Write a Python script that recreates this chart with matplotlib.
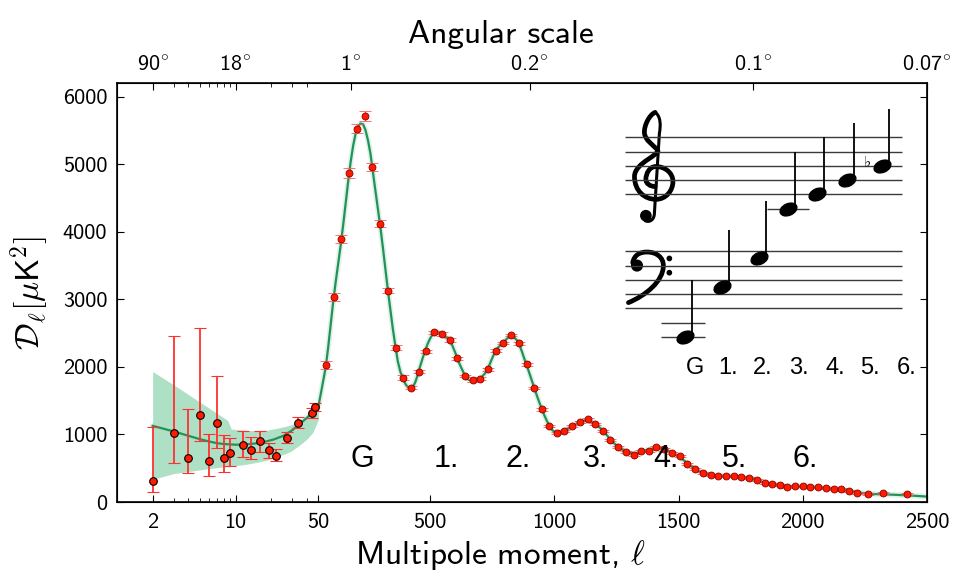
import numpy as np
import matplotlib
matplotlib.use('Agg')
import matplotlib.pyplot as plt
from matplotlib.path import Path
from matplotlib.patches import PathPatch, Ellipse
from matplotlib.transforms import Affine2D

plt.rcParams['font.family'] = ['cmss10', 'DejaVu Sans']
plt.rcParams['mathtext.fontset'] = 'cm'
plt.rcParams['axes.unicode_minus'] = False

# ---- data ----
# low-l points (asymmetric errors: lower / upper bound of the bar)
ell_low = [2, 3, 4, 5, 6, 7, 8, 9, 11.5, 13.5, 16, 19, 22, 27, 34, 44, 47]
dl_low = [310, 1015, 654, 1290, 610, 1171, 645, 719, 840, 766, 901, 764, 684, 952, 1169, 1322, 1408]
bar_lo = [143, 580, 424, 906, 388, 793, 438, 532, 669, 640, 743, 655, 610, 867, 1088, 1250, 1340]
bar_hi = [1103, 2452, 1369, 2575, 1000, 1861, 985, 941, 1053, 965, 1053, 867, 778, 1038, 1251, 1390, 1470]

# binned high-l points
ell_high = [81, 112, 143, 174, 205, 236, 267, 298, 330, 361, 392, 423, 454, 485,
            516, 547, 578, 609, 640, 671, 702, 733, 764, 795, 826, 857, 888, 919,
            950, 980, 1010, 1040, 1072, 1103, 1134, 1165, 1196, 1226, 1257, 1288,
            1319, 1350, 1380, 1411, 1443, 1474, 1505, 1534, 1568, 1599, 1630, 1660,
            1691, 1722, 1753, 1783, 1814, 1846, 1877, 1907, 1938, 1970, 2000, 2031,
            2062, 2093, 2124, 2155, 2185, 2219, 2261, 2322, 2420]
dl_high = [2024, 3035, 3895, 4869, 5524, 5706, 4953, 4116, 3127, 2285, 1842, 1694, 1930, 2230,
           2511, 2486, 2397, 2127, 1866, 1802, 1827, 1964, 2240, 2353, 2471, 2348, 2038, 1688,
           1369, 1123, 1024, 1049, 1127, 1182, 1221, 1152, 1053, 916, 808, 743,
           699, 758, 758, 817, 778, 728, 675, 561, 483, 424, 394, 388,
           388, 384, 374, 354, 329, 285, 261, 251, 226, 236, 241, 222,
           222, 211, 192, 187, 167, 137, 118, 137, 118]
err_high = [60, 60, 60, 70, 70, 75, 60, 50, 40, 35, 30, 25, 25, 25,
            25, 25, 25, 25, 20, 20, 20, 20, 20, 20, 20, 20, 20, 20,
            20, 18, 18, 18, 18, 18, 18, 18, 18, 16, 16, 16,
            16, 16, 16, 16, 16, 16, 15, 15, 15, 15, 15, 15,
            15, 15, 15, 15, 15, 15, 15, 15, 15, 15, 15, 15,
            15, 15, 15, 15, 15, 15, 15, 15, 15]

# best-fit model curve
ell_th = [2, 3, 4, 5, 6, 7, 8, 10, 12, 15, 18, 21, 25, 30, 35, 40, 45, 50,
          60, 70, 80, 90, 100, 110, 120, 130, 140, 150, 160, 170, 180, 190, 200,
          210, 220, 230, 240, 250, 260, 270, 280, 290, 300, 310, 320, 330, 340,
          350, 360, 370, 380, 390, 400, 410, 420, 430, 440, 450, 460, 470, 480,
          490, 500, 510, 520, 530, 540, 550, 560, 570, 580, 590, 600, 610, 620,
          630, 640, 650, 660, 670, 680, 690, 700, 710, 720, 730, 740, 750, 760,
          770, 780, 790, 800, 810, 820, 830, 840, 850, 860, 870, 880, 890, 900,
          910, 920, 930, 940, 950, 960, 970, 980, 990, 1000, 1020, 1040, 1060,
          1080, 1100, 1120, 1140, 1160, 1180, 1200, 1220, 1240, 1260, 1280, 1300,
          1320, 1340, 1360, 1380, 1400, 1420, 1440, 1460, 1480, 1500, 1520, 1540,
          1560, 1580, 1600, 1620, 1650, 1700, 1750, 1800, 1850, 1900, 1950, 2000,
          2050, 2100, 2150, 2200, 2250, 2300, 2350, 2400, 2450, 2500]
dl_th = [1127, 1045, 980, 930, 895, 870, 858, 848, 850, 868, 895, 925, 975, 1060, 1160, 1245, 1330, 1408,
         1600, 1800, 2000, 2300, 2630, 2970, 3260, 3530, 3800, 4100, 4420, 4740, 5030, 5270, 5450,
         5560, 5600, 5590, 5500, 5350, 5150, 4870, 4600, 4330, 4060, 3760, 3440, 3130, 2840,
         2560, 2310, 2080, 1930, 1830, 1750, 1700, 1685, 1700, 1770, 1880, 2010, 2130, 2240,
         2340, 2420, 2480, 2510, 2520, 2500, 2475, 2450, 2420, 2385, 2310, 2220, 2120, 2030,
         1950, 1870, 1820, 1800, 1800, 1805, 1815, 1830, 1860, 1900, 1950, 2040, 2130, 2210,
         2270, 2310, 2345, 2380, 2420, 2455, 2465, 2430, 2390, 2320, 2220, 2110, 2010, 1900,
         1790, 1680, 1570, 1470, 1370, 1280, 1200, 1125, 1070, 1040, 1030, 1050, 1095,
         1145, 1180, 1205, 1205, 1170, 1110, 1040, 950, 870, 805, 760, 730,
         720, 730, 755, 780, 795, 800, 785, 755, 715, 670, 620, 560,
         505, 460, 428, 405, 392, 388, 373, 340, 285, 252, 233, 235,
         222, 205, 185, 155, 128, 115, 110, 102, 92, 80]

# cosmic-variance band at low l
ell_band = [2, 3, 4, 5, 6, 7, 8, 8.6, 9.2, 12, 15, 18, 22, 25, 29, 35, 40, 45, 50]
band_lo = [335, 420, 450, 475, 495, 508, 520, 525, 530, 555, 585, 615, 660, 700, 745, 845, 930, 1030, 1220]
band_hi = [1930, 1735, 1590, 1478, 1387, 1310, 1243, 1205, 1080, 1060, 1055, 1060, 1088, 1110, 1137, 1200, 1270, 1360, 1460]

xticks_bottom = [2, 10, 50, 500, 1000, 1500, 2000, 2500]
xminor = [3, 4, 5, 6, 7, 8, 9, 20, 30, 40]
top_ticks = [2, 10, 180, 900, 1800, 2500]
top_labels = ['90', '18', '1', '0.2', '0.1', '0.07']
yticks = [0, 1000, 2000, 3000, 4000, 5000, 6000]

peak_labels = ['G', '1.', '2.', '3.', '4.', '5.', '6.']
peak_ell = [227, 564, 854, 1167, 1449, 1726, 2011]
peak_y = 640

# music inset: notes as staff steps (0 = bottom line of bass staff)
note_step = [-4, 3, 7, 14, 16, 18, 20]
note_x = [65, 102, 139, 168, 197, 227, 262]
note_label_x = [75, 108, 143, 179, 215, 250, 287]
bass_lines = [0, 2, 4, 6, 8]
treble_lines = [16, 18, 20, 22, 24]


# ---- hybrid axis: log below l=50, linear above ----
L_SPLIT = 50.0
DEC = 477.0


def fwd(l):
    l = np.asarray(l, dtype=float)
    lg = L_SPLIT + DEC * np.log10(np.maximum(l, 1e-6) / L_SPLIT)
    return np.where(l < L_SPLIT, lg, l)


def inv(x):
    x = np.asarray(x, dtype=float)
    ex = L_SPLIT * 10 ** ((np.minimum(x, L_SPLIT) - L_SPLIT) / DEC)
    return np.where(x < L_SPLIT, ex, x)


fig = plt.figure(figsize=(9.55, 5.74), dpi=100)
ax = fig.add_axes([117 / 955, 1 - 502 / 574, 810 / 955, 419 / 574])
ax.set_xscale('function', functions=(fwd, inv))
ax.set_xlim(1.0, 2500)
ax.set_ylim(0, 6200)

green_band = '#ade0c4'
green_line = '#23915a'

ax.fill_between(ell_band, band_lo, band_hi, color=green_band, lw=0, zorder=1)
ax.plot(ell_th, dl_th, color=green_band, lw=4, alpha=0.4, solid_capstyle='round', zorder=1.5)
ax.plot(ell_th, dl_th, color=green_line, lw=1.6, zorder=2)

lo_err = np.array(dl_low) - np.array(bar_lo)
hi_err = np.array(bar_hi) - np.array(dl_low)
ax.errorbar(ell_low, dl_low, yerr=[lo_err, hi_err], fmt='o', ms=5.5,
            mfc='#ff1a00', mec='black', mew=0.8, ecolor='#ff3030',
            elinewidth=1.3, capsize=4, capthick=1.0, zorder=3)
ax.errorbar(ell_high, dl_high, yerr=err_high, fmt='o', ms=5.0,
            mfc='#ff1a00', mec='#8a0000', mew=0.6, ecolor='#ff5a5a',
            elinewidth=1.0, capsize=4, capthick=0.8, zorder=3)

for lab, l in zip(peak_labels, peak_ell):
    ax.text(l, peak_y, lab, ha='center', va='center', fontsize=22,
            family='Liberation Sans', color='black', zorder=4)

ax.set_xticks(xticks_bottom)
ax.set_xticklabels([str(t) for t in xticks_bottom])
ax.set_xticks(xminor, minor=True)
ax.set_xticklabels([], minor=True)
ax.set_yticks(yticks)
ax.set_yticklabels([str(t) for t in yticks])
ax.tick_params(axis='both', which='major', direction='in', length=5, width=0.8,
               labelsize=16, top=False, right=True)
ax.tick_params(axis='x', which='major', pad=8)
ax.tick_params(axis='y', which='major', pad=7)
ax.tick_params(axis='both', which='minor', direction='in', length=3, width=0.6, top=False)
for sp in ax.spines.values():
    sp.set_linewidth(1.2)

ax.set_xlabel(r'Multipole moment, $\ell$', fontsize=24)
ax.xaxis.set_label_coords(0.474, -0.085)
ax.set_ylabel(r'$\mathcal{D}_\ell[\mu\mathsf{K}^2]$', fontsize=24, labelpad=8)

top = ax.twiny()
top.set_xscale('function', functions=(fwd, inv))
top.set_xlim(ax.get_xlim())
top.set_xticks(top_ticks)
top.set_xticklabels([t + r'$^{\circ}$' for t in top_labels])
top.set_xticks(xminor, minor=True)
top.set_xticklabels([], minor=True)
top.tick_params(axis='x', which='major', direction='in', length=5, width=0.8, labelsize=16, pad=6)
top.tick_params(axis='x', which='minor', direction='in', length=3, width=0.6)
top.set_xlabel('Angular scale', fontsize=24)
top.xaxis.set_label_coords(0.474, 1.095)

# ---- music staff inset ----
ins = fig.add_axes([620 / 955, 1 - 380 / 574, 300 / 955, 280 / 574])
ins.set_xlim(0, 300)
ins.set_ylim(-10.06, 29.24)
ins.axis('off')

ins.hlines(treble_lines + bass_lines, 5, 282, color='#3a3a3a', lw=1.0)
ins.hlines([-2, -4], 41, 85, color='#3a3a3a', lw=1.0)
ins.hlines([14], 147, 189, color='#3a3a3a', lw=1.0)

head = Path.unit_circle().transformed(Affine2D().scale(1.0, 0.66).rotate_deg(24))
ins.plot(note_x, note_step, ls='none', marker=head, ms=12.5, color='black')
ins.vlines(np.array(note_x) + 7, np.array(note_step) + 0.4, np.array(note_step) + 8,
           color='black', lw=1.3)
ins.text(247, 20.4, '♭', ha='center', va='center', fontsize=11, family='DejaVu Sans')

for lab, x in zip(peak_labels, note_label_x):
    ins.text(x, -8.4, lab, ha='center', va='center', fontsize=17, family='Liberation Sans')

# treble clef (units of staff spaces, origin at the G line)
M, C, L = Path.MOVETO, Path.CURVE4, Path.LINETO
tv = [(0.15, 4.75), (-0.25, 4.6), (-0.65, 3.8), (-0.6, 3.3),
      (-0.55, 2.8), (0.0, 2.45), (0.3, 2.15),
      (0.65, 1.8), (-1.3, 1.25), (-1.3, 0.25),
      (-1.3, -0.75), (-0.6, -1.35), (0.2, -1.35),
      (0.95, -1.35), (1.4, -0.7), (1.4, -0.1),
      (1.4, 0.5), (0.85, 0.95), (0.2, 0.95),
      (-0.25, 0.95), (-0.5, 0.45), (-0.5, 0.05),
      (-0.5, -0.25), (-0.2, -0.45), (0.15, -0.45)]
tc = [M] + [C] * 24
sv = [(0.15, 4.75), (0.55, 4.5), (0.55, 3.8), (0.45, 3.3),
      (0.1, -2.3),
      (0.1, -2.8), (-0.25, -3.0), (-0.55, -2.85)]
sc = [M, C, C, C, L, C, C, C]
space = 14.25
tr_clef = Affine2D().scale(space, 2.0).translate(33, 18) + ins.transData
ins.add_patch(PathPatch(Path(tv, tc), fill=False, lw=3.4, ec='black', transform=tr_clef,
                        capstyle='round'))
ins.add_patch(PathPatch(Path(sv, sc), fill=False, lw=2.2, ec='black', transform=tr_clef,
                        capstyle='round'))
ins.add_patch(Ellipse((-0.5, -2.5), 0.72, 0.72, color='black', transform=tr_clef))

# bass clef (origin at the F line ball)
bv = [(-0.3, 0.2), (-0.2, 0.75), (0.2, 0.95), (0.7, 0.95),
      (1.4, 0.95), (1.85, 0.55), (1.85, 0.0),
      (1.85, -1.1), (0.6, -2.1), (-0.6, -2.6)]
bc = [M] + [C] * 9
bs_clef = Affine2D().scale(space, 2.0).translate(17, 6) + ins.transData
ins.add_patch(PathPatch(Path(bv, bc), fill=False, lw=3.4, ec='black', transform=bs_clef,
                        capstyle='round'))
ins.add_patch(Ellipse((0, 0), 0.75, 0.75, color='black', transform=bs_clef))
ins.add_patch(Ellipse((2.27, 0.5), 0.3, 0.3, color='black', transform=bs_clef))
ins.add_patch(Ellipse((2.27, -0.5), 0.3, 0.3, color='black', transform=bs_clef))

fig.savefig('out.png', dpi=100)
